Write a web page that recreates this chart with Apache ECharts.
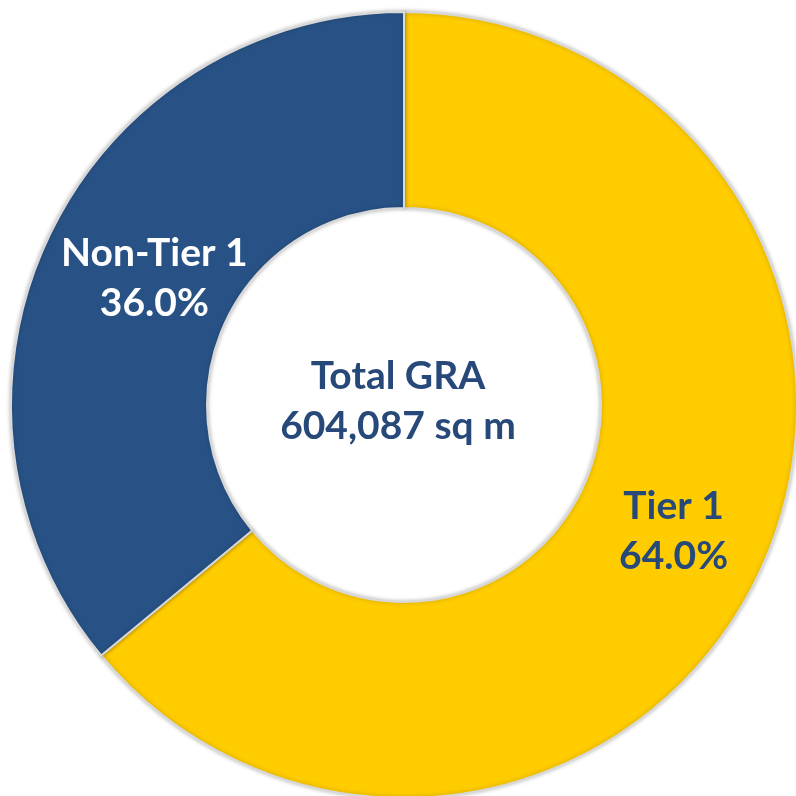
<!DOCTYPE html>
<html>
<head>
<meta charset="utf-8">
<script src="https://cdn.jsdelivr.net/npm/echarts@6/dist/echarts.min.js"></script>
<style>
  html, body { margin: 0; padding: 0; background: #fff; }
  #chart { width: 796px; height: 796px; }
</style>
</head>
<body>
<div id="chart"></div>
<script>
// GRA split by tier
const categories = ['Tier 1', 'Non-Tier 1'];
const shares = [64.0, 36.0];
const centerLines = ['Total GRA', '604,087 sq m'];

const sliceColors = ['#ffcc00', '#285286'];
const labelColors = ['#27497a', '#ffffff'];
const labelPads = [[0, 0, 0, 0], [0, 0, 0, 40]];
const fontFamily = 'Lato, "DejaVu Sans", sans-serif';

const chart = echarts.init(document.getElementById('chart'));

chart.setOption({
    backgroundColor: '#ffffff',
    animation: false,
    title: {
        text: centerLines.join('\n'),
        left: 'center',
        top: 346,
        textStyle: {
            color: '#27497a',
            fontFamily: fontFamily,
            fontWeight: 'bold',
            fontSize: 39,
            lineHeight: 50
        }
    },
    series: [{
        type: 'pie',
        center: [404, 405],
        radius: [197, 393],
        startAngle: 90,
        clockwise: true,
        itemStyle: {
            borderColor: '#d8d8d8',
            borderWidth: 2,
            shadowColor: 'rgba(0,0,0,0.25)',
            shadowBlur: 4
        },
        label: {
            show: true,
            position: 'inside',
            fontFamily: fontFamily,
            fontWeight: 'bold',
            fontSize: 39,
            lineHeight: 50,
            formatter: p => p.name + '\n' + p.value.toFixed(1) + '%'
        },
        labelLine: { show: false },
        data: categories.map((c, i) => ({
            name: c,
            value: shares[i],
            itemStyle: { color: sliceColors[i] },
            label: { color: labelColors[i], padding: labelPads[i] }
        }))
    }]
});
</script>
</body>
</html>
